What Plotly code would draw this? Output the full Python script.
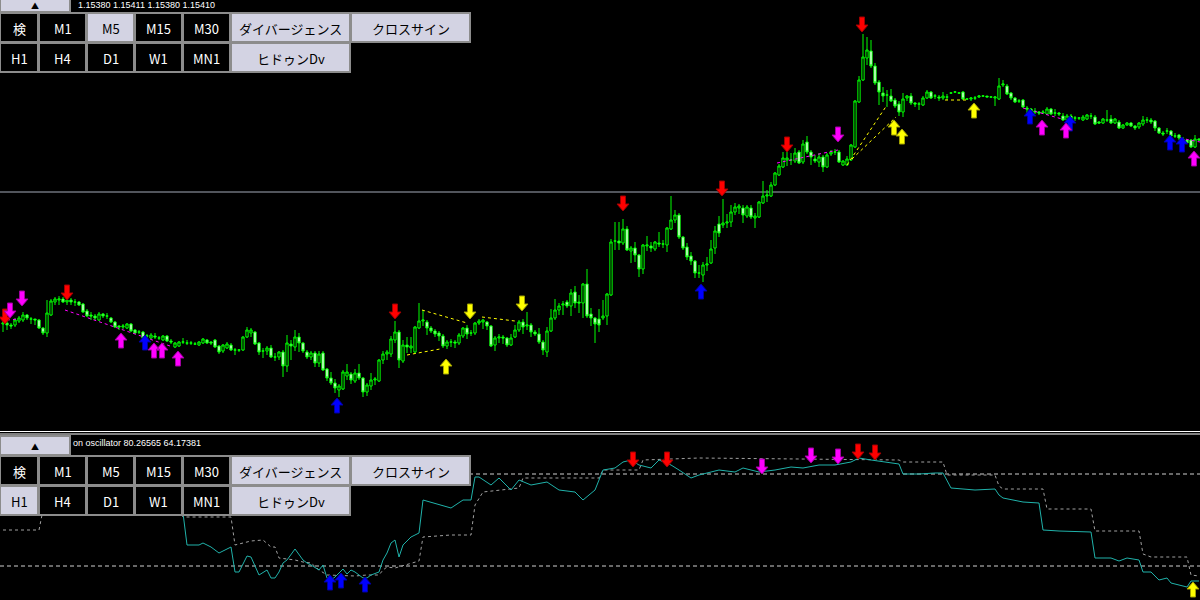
import plotly.graph_objects as go

# ---------------- price data (main window, values in chart points) ----------------
open_ = [108,109,107,107,111,112,117,113,113,112,
         104,99,117,130,132,133,130,132,130,130,
         128,121,117,116,112,118,116,114,110,106,
         105,104,108,102,100,100,96,94,96,94,
         92,96,91,85,86,90,89,89,88,87,
         89,92,90,92,86,81,84,87,82,82,
         82,95,99,100,89,81,81,84,75,75,
         80,66,88,85,95,89,80,75,79,69,
         79,63,54,49,42,43,56,58,51,59,
         54,40,46,52,51,72,78,78,92,100,
         71,87,84,80,104,111,110,104,101,99,
         96,86,90,90,89,96,104,99,99,109,
         110,110,106,87,94,95,94,87,95,102,
         110,106,107,100,98,90,80,101,114,122,
         127,130,126,140,130,129,148,118,114,113,
         114,116,137,191,191,189,203,181,184,177,
         163,186,186,183,189,188,187,203,212,217,
         195,185,176,171,159,157,167,169,184,208,
         207,209,210,220,224,224,216,224,214,215,
         229,236,236,247,257,265,272,272,271,280,
         270,290,280,273,270,275,265,278,280,280,
         267,267,272,285,330,352,374,381,366,350,
         339,337,336,332,328,320,334,336,329,328,
         327,334,340,336,335,334,335,339,340,339,
         340,333,333,334,335,336,336,335,334,333,
         347,346,339,334,331,332,324,323,321,320,
         319,318,323,319,319,316,312,316,314,314,
         312,313,316,315,310,309,312,313,309,310,
         304,307,309,306,305,308,312,312,311,304,
         299,301,301,296,297,293,292,292,285,293]
high = [113,111,109,114,116,120,118,115,113,113,
        105,132,133,135,136,135,134,134,133,131,
        129,123,120,118,120,119,119,115,111,107,
        108,109,109,103,102,101,98,99,99,96,
        97,97,93,90,91,94,92,91,90,91,
        94,93,91,93,87,88,90,89,84,83,
        96,105,104,101,90,84,86,87,79,81,
        82,97,92,102,99,90,82,81,81,81,
        81,64,60,53,48,62,68,60,63,68,
        55,49,59,55,73,81,82,96,111,102,
        92,95,95,106,129,122,112,106,103,101,
        98,92,93,92,99,105,107,102,110,113,
        113,111,107,96,98,97,95,98,107,112,
        113,120,109,102,104,92,105,123,133,129,
        131,132,143,146,137,149,163,124,115,123,
        132,139,193,210,210,213,206,186,190,178,
        188,196,190,191,200,192,205,236,222,219,
        196,189,180,172,167,170,175,192,206,216,
        233,218,227,229,228,227,227,227,219,231,
        251,242,250,260,268,280,280,279,284,282,
        292,296,282,277,279,277,279,282,283,282,
        272,276,288,332,356,398,395,392,369,352,
        345,342,343,334,331,339,337,339,330,330,
        336,342,341,338,337,340,338,340,341,340,
        341,334,335,336,337,337,336,336,336,354,
        352,348,340,335,333,333,326,324,324,321,
        322,325,324,323,320,319,318,318,316,315,
        317,318,319,317,311,314,322,317,314,312,
        308,310,310,307,310,316,315,314,312,305,
        301,304,302,299,298,295,293,293,297,294]
low = [100,102,103,105,109,110,112,108,107,103,
       97,95,116,127,127,129,127,127,126,126,
       119,115,112,112,111,114,113,109,104,102,
       103,103,100,98,98,93,94,93,93,92,
       91,90,88,84,85,88,87,87,87,86,
       88,88,87,84,78,79,83,81,77,80,
       81,94,95,87,77,74,77,74,71,72,
       55,60,72,81,80,79,73,72,65,65,
       61,51,47,39,35,42,52,48,49,52,
       35,36,42,47,50,68,72,75,89,64,
       69,79,79,79,103,106,97,99,95,91,
       84,83,85,84,87,94,93,96,97,107,
       103,102,85,81,89,88,85,86,94,100,
       98,102,95,96,88,77,75,100,112,117,
       117,124,116,124,119,114,114,106,89,100,
       112,107,136,182,182,187,181,169,170,155,
       158,181,180,181,185,184,180,202,209,193,
       182,172,167,154,154,150,161,168,178,195,
       204,204,205,217,218,209,214,213,204,214,
       228,230,235,246,256,264,266,267,269,268,
       268,278,267,269,265,260,264,276,277,269,
       266,266,271,284,329,351,367,364,347,327,
       330,325,330,324,316,315,331,327,325,322,
       326,333,333,333,331,332,332,338,339,338,
       332,332,331,332,334,335,335,334,326,332,
       345,337,332,329,329,324,319,320,318,317,
       318,317,317,316,316,311,311,312,311,312,
       311,312,313,307,308,308,310,308,308,303,
       303,306,305,302,303,306,309,308,301,298,
       296,298,295,294,292,290,288,284,284,291]
close = [109,107,106,112,114,117,114,113,112,104,
         99,119,131,133,133,130,132,130,130,127,
         120,116,116,114,118,116,116,110,105,105,
         106,108,101,99,100,94,96,97,95,94,
         96,91,90,89,90,90,89,89,88,90,
         93,89,89,85,80,87,88,82,82,82,
         95,102,102,88,80,81,84,75,75,80,
         66,89,86,95,89,81,75,79,69,78,
         62,54,49,44,46,60,60,52,59,54,
         40,47,52,53,72,78,80,93,100,72,
         87,85,86,105,111,112,104,101,98,96,
         86,90,90,89,97,104,98,99,109,111,
         112,106,86,94,95,94,87,94,102,110,
         105,107,100,98,90,82,101,114,122,126,
         128,126,139,129,129,148,116,114,108,107,
         116,138,190,191,189,203,182,184,177,163,
         187,187,184,190,188,188,204,212,217,195,
         184,175,171,159,159,167,168,183,201,199,
         209,210,220,225,226,217,225,215,216,230,
         236,237,247,259,266,274,274,272,279,269,
         288,280,275,271,275,265,277,280,280,270,
         271,273,287,331,352,375,382,366,349,340,
         336,337,331,326,320,333,336,329,328,328,
         334,340,334,336,334,336,335,339,340,339,
         333,333,334,334,336,336,335,335,335,346,
         348,338,334,330,331,325,323,321,320,319,
         320,323,318,319,318,312,316,313,314,314,
         315,317,316,308,309,313,312,309,313,304,
         307,309,306,304,309,312,312,310,304,299,
         298,301,296,296,294,292,289,285,293,292]
bars = list(range(len(close)))

hline_price = 240   # horizontal price line

# divergence lines in main window: (bar0, price0, bar1, price1)
mag_x0 = [1, 15.5, 193.5, 255, 294.25]
mag_p0 = [112, 122, 269, 324, 294]
mag_x1 = [4, 41.75, 208.75, 264.75, 299.25]
mag_p1 = [113, 86, 282, 313, 290]
yel_x0 = [104.75, 101, 119.75, 211, 212.25, 235.5]
yel_p0 = [122, 77, 115, 267, 273, 332]
yel_x1 = [116, 109.25, 128, 221, 223.25, 241.25]
yel_p1 = [109, 83, 111, 327, 315, 332]

# signal arrows in main window: bar position and tip price
red_dn_x = [0.5, 16, 98, 155, 179.75, 196, 214.75]
red_dn_p = [108, 132, 113, 221, 236, 280, 400]
mag_dn_x = [1.75, 4.75, 208.75]
mag_dn_p = [114, 126, 290]
yel_dn_x = [116.75, 129.75]
yel_dn_p = [113, 121]
blue_up_x = [35.5, 83.5, 174.5, 256.75, 266.75, 291.75, 294.75]
blue_up_p = [97, 34, 148, 323, 316, 297, 295]
mag_up_x = [29.5, 37.75, 39.75, 43.75, 259.75, 265.75, 297.75]
mag_up_p = [99, 89, 89, 81, 312, 309, 281]
yel_up_x = [110.75, 222.75, 224.75, 242.75]
yel_up_p = [73, 312, 303, 329]

# ---------------- oscillator window ----------------
osc_x = [0,9,19,29,42,45,46,49,50,52,54,57,58,59,61,62,64,66,67,68,
         69,70,71,73,75,76,77,79,80,81,82,83,85,86,87,88,90,91,92,94,
         95,96,97,98,99,100,102,104,105,109,112,115,117,118,119,122,124,127,129,132,
         136,139,143,145,148,150,153,155,157,159,162,164,167,169,172,174,177,179,183,185,
         189,193,197,200,204,208,212,214,217,220,224,225,229,233,235,237,243,248,249,250,
         255,259,260,264,272,273,277,279,281,284,285,287,289,291,292,294,296,297,299]
osc_main = [95,87,100,105,86,87,55,55,57,53,47,53,28,28,44,43,25,30,22,22,
            28,37,40,51,40,37,35,30,35,22,20,23,31,26,30,28,22,22,25,28,
            40,47,57,60,43,55,63,67,100,95,92,100,100,123,123,115,122,110,120,115,
            118,110,108,100,110,130,132,138,140,135,132,140,135,130,122,125,128,130,128,132,
            128,130,133,132,135,135,138,142,140,138,136,126,126,127,127,112,110,111,105,102,
            98,97,70,69,68,42,42,39,42,40,28,28,20,22,17,15,13,19,19]
sig_x = [0,9,10,44,45,57,58,62,65,67,68,69,73,75,77,79,81,86,88,91,
         94,95,96,98,102,104,105,112,117,118,120,129,130,149,150,159,160,174,224,225,
         235,236,248,249,250,260,261,272,273,284,285,287,296,297,299]
sig_val = [70,70,90,90,83,83,55,59,60,53,53,42,40,38,37,30,25,24,24,25,
           25,30,33,32,37,39,63,65,65,95,108,112,122,122,130,130,140,142,140,138,
           138,125,125,114,111,111,91,91,69,69,46,43,43,25,24]
osc_levels = [126, 34]

o_blue_up_x = [81.75, 84.5, 90.5]
o_blue_up_p = [25, 27, 23]
o_red_dn_x = [157.5, 166, 213.75, 218]
o_red_dn_p = [133, 133, 141, 140]
o_mag_dn_x = [189.75, 202, 208.75]
o_mag_dn_p = [126, 137, 136]
o_yel_up_x = [297.5]
o_yel_up_p = [18]

main_header = "1.15380 1.15411 1.15380 1.15410"
osc_header = "on oscillator 80.26565 64.17381"
row1_labels = ["検", "M1", "M5", "M15", "M30", "ダイバージェンス", "クロスサイン"]
row2_labels = ["H1", "H4", "D1", "W1", "MN1", "ヒドゥンDv"]
main_lit = {(0, 2), (0, 5), (0, 6), (1, 5)}
osc_lit = {(0, 5), (0, 6), (1, 0), (1, 5)}

# ---------------- figure ----------------
W, H = 1200, 600
BARW = 4.0  # px per bar
fig = go.Figure()

fig.add_trace(go.Candlestick(
    x=bars, open=open_, high=high, low=low, close=close,
    increasing=dict(line=dict(color="#00ff00", width=1), fillcolor="#000000"),
    decreasing=dict(line=dict(color="#00ff00", width=1), fillcolor="#ffffff"),
    whiskerwidth=0, xaxis="x", yaxis="y", hoverinfo="skip", showlegend=False))


def seg_trace(x0, p0, x1, p1, color, xa, ya):
    xs, ys = [], []
    for a, b, c, d in zip(x0, p0, x1, p1):
        xs += [a, c, None]
        ys += [b, d, None]
    return go.Scatter(x=xs, y=ys, mode="lines", xaxis=xa, yaxis=ya,
                      line=dict(color=color, width=1, dash="3px,3px"),
                      hoverinfo="skip", showlegend=False)


fig.add_trace(seg_trace(mag_x0, mag_p0, mag_x1, mag_p1, "#ff00ff", "x", "y"))
fig.add_trace(seg_trace(yel_x0, yel_p0, yel_x1, yel_p1, "#ffff00", "x", "y"))


def arrow_trace(xs, ps, up, color, edge, xa, ya):
    hw, sw = 6.0 / BARW, 2.5 / BARW
    hh, th = 7.0, 15.0
    s = -1 if up else 1
    tmpl = [(0, 0), (-hw, hh), (-sw, hh), (-sw, th), (sw, th), (sw, hh), (hw, hh), (0, 0)]
    ax, ay = [], []
    for x, p in zip(xs, ps):
        for dx, dy in tmpl:
            ax.append(x + dx)
            ay.append(p + s * dy)
        ax.append(None)
        ay.append(None)
    return go.Scatter(x=ax, y=ay, mode="lines", fill="toself", fillcolor=color,
                      line=dict(color=edge, width=1), xaxis=xa, yaxis=ya,
                      hoverinfo="skip", showlegend=False)


RED, MAG, BLU, YEL = ("#ff0000", "#a00000"), ("#ff00ff", "#a000a0"), ("#0000ff", "#0000a0"), ("#ffff00", "#a0a000")
fig.add_trace(arrow_trace(red_dn_x, red_dn_p, False, *RED, "x", "y"))
fig.add_trace(arrow_trace(mag_dn_x, mag_dn_p, False, *MAG, "x", "y"))
fig.add_trace(arrow_trace(yel_dn_x, yel_dn_p, False, *YEL, "x", "y"))
fig.add_trace(arrow_trace(blue_up_x, blue_up_p, True, *BLU, "x", "y"))
fig.add_trace(arrow_trace(mag_up_x, mag_up_p, True, *MAG, "x", "y"))
fig.add_trace(arrow_trace(yel_up_x, yel_up_p, True, *YEL, "x", "y"))

# oscillator
fig.add_trace(go.Scatter(x=sig_x, y=sig_val, mode="lines", xaxis="x2", yaxis="y2",
                         line=dict(color="#a0a0a0", width=1, dash="3px,3px"),
                         hoverinfo="skip", showlegend=False))
fig.add_trace(go.Scatter(x=osc_x, y=osc_main, mode="lines", xaxis="x2", yaxis="y2",
                         line=dict(color="#20b2aa", width=1),
                         hoverinfo="skip", showlegend=False))
fig.add_trace(arrow_trace(o_blue_up_x, o_blue_up_p, True, *BLU, "x2", "y2"))
fig.add_trace(arrow_trace(o_red_dn_x, o_red_dn_p, False, *RED, "x2", "y2"))
fig.add_trace(arrow_trace(o_mag_dn_x, o_mag_dn_p, False, *MAG, "x2", "y2"))
fig.add_trace(arrow_trace(o_yel_up_x, o_yel_up_p, True, *YEL, "x2", "y2"))

MAIN_H = 432
SUB_H = 164
xr = [-0.75, len(bars) - 0.75]
fig.update_layout(
    width=W, height=H, margin=dict(l=0, r=0, t=0, b=0),
    paper_bgcolor="#000000", plot_bgcolor="#000000",
    boxgap=0.18, hovermode=False, showlegend=False,
    xaxis=dict(domain=[0, 1], range=xr, visible=False, anchor="y",
               rangeslider=dict(visible=False), fixedrange=True),
    yaxis=dict(domain=[1 - MAIN_H / H, 1], range=[0, MAIN_H], visible=False, fixedrange=True),
    xaxis2=dict(domain=[0, 1], range=xr, visible=False, anchor="y2", fixedrange=True),
    yaxis2=dict(domain=[0, SUB_H / H], range=[0, SUB_H], visible=False, fixedrange=True),
)

shapes = []
shapes.append(dict(type="line", xref="paper", x0=0, x1=1, yref="y", y0=hline_price, y1=hline_price,
                   line=dict(color="#a3aab8", width=1), layer="below"))
for lv in osc_levels:
    shapes.append(dict(type="line", xref="paper", x0=0, x1=1, yref="y2", y0=lv, y1=lv,
                       line=dict(color="#cfcfcf", width=1, dash="4px,3px"), layer="below"))


def py(y):
    return 1 - y / H


def px(x):
    return x / W


for ysep in (431.5, 434.0):
    shapes.append(dict(type="line", xref="paper", yref="paper", x0=0, x1=1, y0=py(ysep), y1=py(ysep),
                       line=dict(color="#ffffff", width=1)))

annotations = []
LIGHT = "#d3d3e3"
BORDER = "#8c8c8c"
cols = [(0, 38), (39, 86), (87, 134), (135, 182), (183, 230), (231, 350), (351, 470)]


def button(x0, y0, x1, y1, label, lit, size=13):
    shapes.append(dict(type="rect", xref="paper", yref="paper", x0=px(x0), x1=px(x1),
                       y0=py(y1), y1=py(y0), fillcolor=LIGHT if lit else "#000000",
                       line=dict(color=BORDER, width=2), layer="above"))
    annotations.append(dict(x=px((x0 + x1) / 2), y=py((y0 + y1) / 2 + 1), xref="paper", yref="paper",
                            text=label, showarrow=False, xanchor="center", yanchor="middle",
                            font=dict(family="Noto Sans CJK JP", size=size,
                                      color="#000000" if lit else "#ffffff")))


def panel_buttons(top, lit):
    r1 = (top, top + 29)
    r2 = (top + 30, top + 59)
    for i, lab in enumerate(row1_labels):
        button(cols[i][0], r1[0], cols[i][1], r1[1], lab, (0, i) in lit)
    for i, lab in enumerate(row2_labels):
        button(cols[i][0], r2[0], cols[i][1], r2[1], lab, (1, i) in lit)


# main header text and collapse button
annotations.append(dict(x=px(76), y=py(5), xref="paper", yref="paper", text=main_header,
                        showarrow=False, xanchor="left", yanchor="middle",
                        font=dict(family="Liberation Sans", size=9, color="#ffffff")))
button(0, -3, 70, 12, "▲", True, size=8)
panel_buttons(13, main_lit)

annotations.append(dict(x=px(71), y=py(443), xref="paper", yref="paper", text=osc_header,
                        showarrow=False, xanchor="left", yanchor="middle",
                        font=dict(family="Liberation Sans", size=9, color="#ffffff")))
button(0, 436, 70, 455, "▲", True, size=8)
panel_buttons(456, osc_lit)

fig.update_layout(shapes=shapes, annotations=annotations)
fig.write_html("out.html", config={"displayModeBar": False},
               post_script="document.body.style.margin='0';document.body.style.overflow='hidden';")
